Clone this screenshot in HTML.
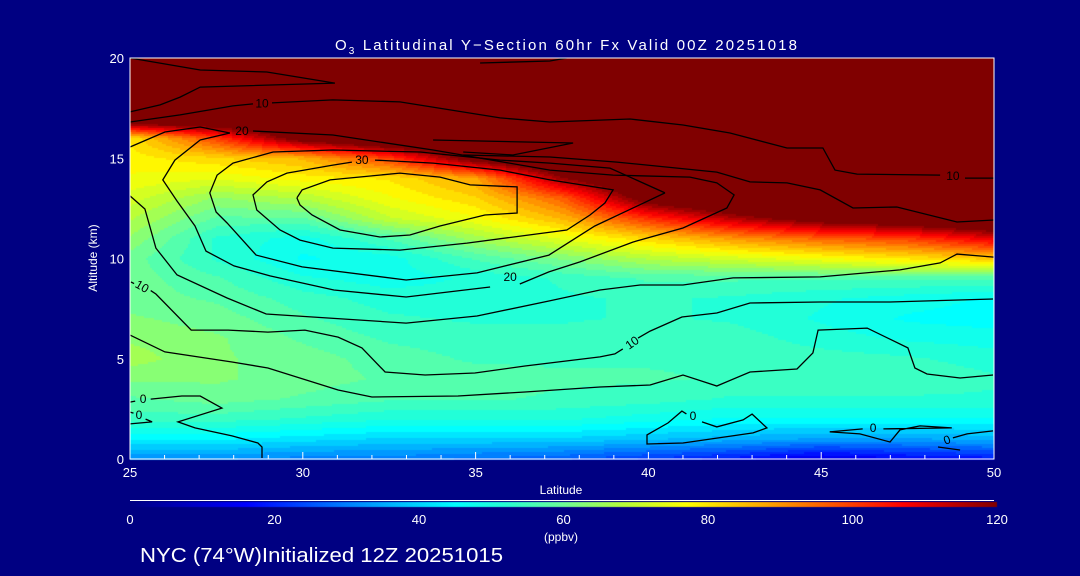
<!DOCTYPE html>
<html><head><meta charset="utf-8">
<style>
html,body{margin:0;padding:0;background:#000080;}
#wrap{position:relative;width:1080px;height:576px;background:#000082;overflow:hidden;font-family:"Liberation Sans",sans-serif;color:#fff;}
svg{position:absolute;left:0;top:0;}
canvas{position:absolute;left:0;top:0;}
</style></head>
<body>
<div id="wrap">
<canvas id="heat" width="1080" height="576"></canvas>
<svg id="svg" width="1080" height="576">
<text x="335" y="50" font-size="15" fill="#fff" textLength="462" lengthAdjust="spacing">O<tspan font-size="10" dy="4">3</tspan><tspan dy="-4"> Latitudinal Y−Section 60hr  Fx Valid 00Z 20251018</tspan></text>
<text x="97" y="258" text-anchor="middle" font-size="12" fill="#fff" transform="rotate(-90 97 258)">Altitude (km)</text>
<text x="561" y="494" text-anchor="middle" font-size="12" fill="#fff">Latitude</text>
<text x="561" y="541" text-anchor="middle" font-size="12" fill="#fff">(ppbv)</text>
<text x="140" y="562" font-size="20" fill="#fff" textLength="363" lengthAdjust="spacingAndGlyphs">NYC (74°W)Initialized 12Z 20251015</text>
<g id="gcontour"></g>
<g id="gaxes"></g>
<g id="gcbar"></g>
</svg>
</div>
<script>
// ---- data ----
const lats = [25,27.5,30,32.5,35,37.5,40,42.5,45,47.5,50];
const alts = [0,1,2,3,4,5,6,7,8,9,10,11,12,13,14,15,16,17,18,19,20];
const o3alt0  = [32,32,30,30,28,26,22,18,12,16,18];
const o3alt1  = [44,44,42,40,40,40,38,36,34,34,36];
const o3alt2  = [54,54,52,50,50,50,48,46,46,46,46];
const o3alt3  = [58,60,58,56,56,55,54,52,52,52,52];
const o3alt4  = [62,62,60,58,57,56,56,55,55,55,53];
const o3alt5  = [66,62,60,57,55,55,55,55,54,53,51];
const o3alt6  = [64,62,58,55,54,54,55,54,51,49,48];
const o3alt7  = [62,60,56,53,52,52,53,52,49,46,45];
const o3alt8  = [60,58,54,51,51,52,53,52,50,48,46];
const o3alt9  = [60,56,50,48,50,53,56,56,56,56,56];
const o3alt10 = [60,52,46,48,56,62,68,72,76,80,84];
const o3alt11 = [64,52,48,56,66,74,82,90,96,100,110];
const o3alt12 = [68,58,58,70,76,86,102,115,125,130,135];
const o3alt13 = [72,64,68,76,82,96,125,135,135,135,135];
const o3alt14 = [76,74,78,80,88,118,135,135,135,135,135];
const o3alt15 = [78,82,86,100,125,135,135,135,135,135,135];
const o3alt16 = [80,100,125,135,135,135,135,135,135,135,135];
const o3alt17 = [135,135,135,135,135,135,135,135,135,135,135];
const o3alt18 = [135,135,135,135,135,135,135,135,135,135,135];
const o3alt19 = [135,135,135,135,135,135,135,135,135,135,135];
const o3alt20 = [135,135,135,135,135,135,135,135,135,135,135];
const xTicks = [25,30,35,40,45,50];
const yTicks = [0,5,10,15,20];
const cbTicks = [0,20,40,60,80,100,120];

// contours as [lat, alt]
const cK1 = [[25,20],[27.03,19.4],[28.96,19.3],[30.93,18.75],[27.03,18.55],[26.45,18.05],[25.87,17.66],[25,17.31]];
const cK2 = [[35.13,19.75],[37.15,19.85],[37.64,20]];
const cK3a = [[25,16.81],[26.45,17.16],[27.98,17.61],[28.56,17.71]];
const cK3b = [[29.11,17.76],[30.87,17.91],[32.81,17.81],[35.71,17.01],[37.15,16.81],[39.47,16.96],[41,16.66],[42.36,16.26],[44.01,15.51],[45.05,15.51],[45.4,14.41],[46.04,14.21],[48.44,14.16]];
const cK3c = [[49.16,14.01],[50,14.01]];
const cK4 = [[25,15.56],[26.01,16.31],[27.03,16.56],[27.89,16.26]];
const cC4 = [[28.56,16.36],[30.87,16.16],[33.77,15.41],[37.15,14.41],[38.98,14.16],[41.2,14.06],[41.98,13.77],[42.48,13.17],[42.27,12.52],[41,11.52],[39.55,10.82],[38.02,9.83],[37.12,9.33],[36.28,8.73]];
const cC4b = [[35.42,8.58],[32.99,8.08],[30.9,8.43],[29.05,9.13],[28.01,9.63],[27.2,10.37],[26.88,11.62],[26.36,12.87],[25.95,13.92],[26.3,14.91],[27.03,15.91],[27.89,16.26]];
const cTip = [[33.77,15.91],[37.82,15.76],[36.08,15.16],[34.64,15.31]];
const cLa = [[34.64,15.16],[37.15,15.06],[39.09,14.81],[41.98,14.31],[42.94,13.82],[44.01,13.77],[44.97,13.42],[45.92,12.52],[47.19,12.57],[48.93,11.82],[50,11.92]];
const cC3 = [[40.48,13.27],[38.89,14.51],[37.15,14.76],[35.71,14.91],[33.39,15.31],[30.87,15.41],[29.14,15.31],[27.98,14.76],[27.52,14.16],[27.31,13.27],[27.49,12.32],[27.81,11.77],[28.65,10.17],[29.98,9.58],[32.99,8.93],[35.04,9.28],[37.12,10.17],[38.45,11.62],[40.48,13.27]];
const cC2 = [[32.09,14.91],[33.77,14.76],[35.71,14.41],[37.15,13.92],[38.98,13.42],[38.74,12.77],[38.31,12.17],[37.64,11.42],[34.75,10.77],[32.81,10.42],[30.87,10.52],[29.92,10.92],[29.34,11.42],[28.67,12.42],[28.56,13.17],[28.96,13.82],[29.54,14.26],[30.87,14.66],[31.42,14.81]];
const cC1 = [[29.83,13.02],[29.98,13.42],[30.79,13.92],[32.81,14.26],[33.97,14.06],[34.84,13.67],[36.2,13.57],[36.2,12.27],[35.27,12.17],[33.97,11.62],[33.1,11.17],[32.23,11.07],[31.08,11.42],[30.27,12.17],[29.92,12.67],[29.83,13.02]];
const cR1 = [[25,13.12],[25.43,12.47],[25.75,10.52],[26.36,9.18],[27.81,8.03],[28.94,7.23],[32.99,6.78],[35.04,7.13],[37.12,7.88],[38.6,8.43],[39.76,8.68],[41,8.68],[42.45,9.03],[44.97,9.08],[47.28,9.43],[48.44,9.78],[48.93,10.22],[50,10.07]];
const cM1a = [[25.03,8.83],[25.12,8.75]];
const cM1b = [[25.6,8.4],[25.75,8.23],[26.77,6.43],[27.84,6.43],[28.99,6.33],[30.06,6.43],[31.02,6.08],[31.71,5.54],[32.38,4.34],[33.54,4.19],[34.98,4.29],[36.43,4.64],[38.6,5.09],[39.03,5.24],[39.26,5.49]];
const cM1c = [[39.7,6.03],[40.05,6.38],[40.97,7.08],[41.98,7.28],[42.94,7.78],[44.97,7.83],[46.99,7.83],[49.97,7.98]];
const cM2 = [[25,6.18],[26.01,5.34],[27.95,4.84],[28.99,4.54],[31.02,3.44],[32,3.09],[34.49,3.14],[36.43,3.34],[38.6,3.59],[40.05,3.69],[41,4.19],[41.98,3.64],[42.94,4.34],[44.3,4.49],[44.76,5.29],[44.91,6.43],[46.33,6.53],[47.51,5.54],[47.71,4.54],[48.06,4.24],[49.02,4.04],[49.97,4.19]];
const cZ1a = [[25,2.84],[25.15,2.89]];
const cZ1b = [[25.6,2.99],[26.5,3.14],[27.03,3.14],[27.66,2.54],[26.39,1.85],[26.88,1.55],[27.95,1.15],[28.7,0.8],[28.82,0.6],[28.82,0.05]];
const cZ2a = [[25,2.34],[25.1,2.29]];
const cZ2b = [[25.45,1.99],[25.64,1.85],[25,1.75]];
const cZ3 = [[41.1,2.25],[40.97,2.39],[40.57,1.8],[39.96,1.2],[39.96,0.75],[41,0.8],[43.03,1.3],[43.43,1.55],[43,2.24],[42.74,1.95],[41.98,1.6],[41.55,1.85]];
const cZ4a = [[45.25,1.35],[46.2,1.5]];
const cZ4b = [[46.8,1.5],[48.78,1.55],[47.86,1.65],[47.28,1.45],[46.99,0.85],[46.12,1.25],[45.25,1.35]];
const cZ5a = [[48.38,0.6],[49.02,0.45]];
const cZ5b = [[48.81,1.05],[49.22,1.25],[49.97,1.4]];
const contourSets = [cK1,cK2,cK3a,cK3b,cK3c,cK4,cC4,cC4b,cTip,cLa,cC3,cC2,cC1,cR1,cM1a,cM1b,cM1c,cM2,cZ1a,cZ1b,cZ2a,cZ2b,cZ3,cZ4a,cZ4b,cZ5a,cZ5b];
const labelText = ["10","10","20","30","20","10","10","0","0","0","0","0"];
const labelLat  = [28.82,48.81,28.24,31.71,36.0,25.35,39.53,25.38,25.26,41.29,46.5,48.64];
const labelAlt  = [17.72,14.11,16.36,14.91,9.08,8.6,5.8,2.99,2.19,2.14,1.55,0.95];
const labelRot  = [0,0,0,0,0,30,-35,0,0,0,0,-20];

// ---- axes ----
const X0=130, X1=994, Y0=459, Y1=58;
const xs = v => X0 + (v-25)/25*(X1-X0);
const ys = v => Y0 - v/20*(Y0-Y1);
const cbX0=130, cbX1=997;
const cbs = v => cbX0 + v/120*(cbX1-cbX0);

const cmStops=[[0,[0,0,130]],[16,[0,0,255]],[30,[0,128,255]],[45,[0,255,255]],[52,[40,255,210]],[60,[110,255,150]],[68,[180,255,60]],[77,[255,255,0]],[88,[255,165,0]],[100,[255,60,0]],[107,[255,0,0]],[120,[128,0,0]]];
function cmap(v){
  if(v<=0) return cmStops[0][1];
  if(v>=120) return cmStops[cmStops.length-1][1];
  for(let i=0;i<cmStops.length-1;i++){
    const a=cmStops[i],b=cmStops[i+1];
    if(v>=a[0]&&v<=b[0]){const t=(v-a[0])/(b[0]-a[0]);return a[1].map((c,k)=>Math.round(c+(b[1][k]-c)*t));}
  }
}
const grid=[o3alt0,o3alt1,o3alt2,o3alt3,o3alt4,o3alt5,o3alt6,o3alt7,o3alt8,o3alt9,o3alt10,o3alt11,o3alt12,o3alt13,o3alt14,o3alt15,o3alt16,o3alt17,o3alt18,o3alt19,o3alt20];
function sample(lat,alt){
  let fi=(lat-lats[0])/(lats[1]-lats[0]); let fj=(alt-alts[0])/(alts[1]-alts[0]);
  fi=Math.max(0,Math.min(lats.length-1.0001,fi)); fj=Math.max(0,Math.min(alts.length-1.0001,fj));
  const i=Math.floor(fi), j=Math.floor(fj), ti=fi-i, tj=fj-j;
  const a=grid[j][i], b=grid[j][i+1], c=grid[j+1][i], d=grid[j+1][i+1];
  return (a*(1-ti)+b*ti)*(1-tj)+(c*(1-ti)+d*ti)*tj;
}
const ctx=document.getElementById('heat').getContext('2d');
const B=2;
for(let py=Y1;py<Y0;py+=B){
  for(let px=X0;px<X1;px+=B){
    const lat=25+(px+B/2-X0)/(X1-X0)*25, alt=(Y0-(py+B/2))/(Y0-Y1)*20;
    let v=sample(lat,alt); v=Math.round(v/3)*3;
    const c=cmap(v); ctx.fillStyle='rgb('+c[0]+','+c[1]+','+c[2]+')';
    ctx.fillRect(px,py,B,B);
  }
}
// colorbar
for(let px=cbX0;px<cbX1;px++){
  const v=(px-cbX0)/(cbX1-cbX0)*120; const c=cmap(v);
  ctx.fillStyle='rgb('+c[0]+','+c[1]+','+c[2]+')'; ctx.fillRect(px,502,1,5);
}
const NS='http://www.w3.org/2000/svg';
function mk(tag,attrs,parent){const e=document.createElementNS(NS,tag);for(const k in attrs)e.setAttribute(k,attrs[k]);parent.appendChild(e);return e;}
const gC=document.getElementById('gcontour');
contourSets.forEach((pts)=>{
  const p=mk('polyline',{points:pts.map(q=>xs(q[0]).toFixed(1)+','+ys(q[1]).toFixed(1)).join(' '),fill:'none',stroke:'#000','stroke-width':'1.3'},gC);
  
  
});
labelText.forEach((t,i)=>{
  const x=xs(labelLat[i]), y=ys(labelAlt[i]);
  const e=mk('text',{x:x,y:y+4,'text-anchor':'middle','font-size':'12',fill:'#000',transform:'rotate('+labelRot[i]+' '+x+' '+y+')'},gC);
  e.textContent=t;
  
  
});
const gA=document.getElementById('gaxes');
const fr=mk('rect',{x:X0,y:Y1,width:X1-X0,height:Y0-Y1,fill:'none',stroke:'#fff','stroke-width':'1'},gA);


for(let v=25;v<=50;v++){
  const t=mk('line',{x1:xs(v),x2:xs(v),y1:Y0,y2:Y0-(v%5===0?7:4),stroke:'#fff','stroke-width':'1'},gA);
  
  
}
xTicks.forEach(v=>{
  const t=mk('text',{x:xs(v),y:477,'text-anchor':'middle','font-size':'13',fill:'#fff'},gA);
  t.textContent=v;
  
  
});
yTicks.forEach(v=>{
  const t=mk('text',{x:124,y:ys(v)+5,'text-anchor':'end','font-size':'13',fill:'#fff'},gA);
  t.textContent=v;
  
  
});
const gB=document.getElementById('gcbar');
const cl=mk('line',{x1:cbX0,x2:994,y1:500.5,y2:500.5,stroke:'#fff','stroke-width':'1'},gB);


cbTicks.forEach(v=>{
  const t=mk('text',{x:cbs(v),y:524,'text-anchor':'middle','font-size':'13',fill:'#fff'},gB);
  t.textContent=v;
  
  
});
</script>
</body></html>
